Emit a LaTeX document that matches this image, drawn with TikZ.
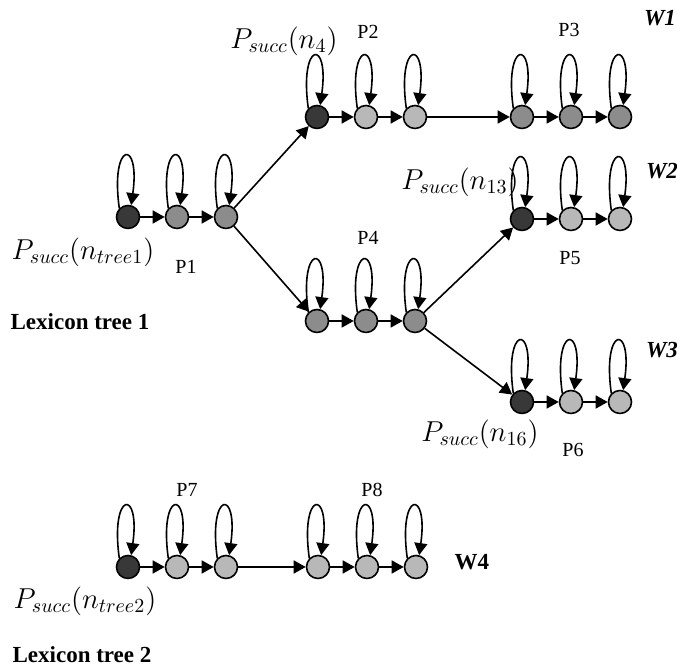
\documentclass[tikz,border=0pt]{standalone}
\usepackage{fontspec}
\setmainfont{Liberation Serif}
\usetikzlibrary{automata,positioning,arrows.meta}
\tikzset{
  hmm/.style={->,>={Triangle[length=6pt,width=6.5pt]},line width=0.8pt,node distance=24.5pt,on grid,
    every state/.style={draw=black,line width=0.8pt,minimum size=11.5pt,inner sep=0pt}},
  selfloop/.style={->,line width=0.8pt},
  headst/.style={state,fill=black!78},
  midst/.style={state,fill=black!45},
  lightst/.style={state,fill=black!28},
  plab/.style={font=\fontsize{10}{12}\selectfont},
  slab/.style={font=\fontsize{14}{16}\selectfont},
  wlab/.style={font=\fontsize{11.5}{13}\selectfont\bfseries},
}

\begin{document}
\begin{tikzpicture}[hmm,x=0.5pt,y=0.5pt]
  \useasboundingbox (0,0) rectangle (677,667);
  % lexicon tree 1
  \node[headst] (p1a) at (128,450) {};
  \node[midst] (p1b) [right=of p1a] {};
  \node[midst] (p1c) [right=of p1b] {};
  \node[headst] (p2a) at (317,550) {};
  \node[lightst] (p2b) [right=of p2a] {};
  \node[lightst] (p2c) [right=of p2b] {};
  \node[midst] (p3a) at (522,550) {};
  \node[midst] (p3b) [right=of p3a] {};
  \node[midst] (p3c) [right=of p3b] {};
  \node[midst] (p4a) at (317,346) {};
  \node[midst] (p4b) [right=of p4a] {};
  \node[midst] (p4c) [right=of p4b] {};
  \node[headst] (p5a) at (522,448) {};
  \node[lightst] (p5b) [right=of p5a] {};
  \node[lightst] (p5c) [right=of p5b] {};
  \node[headst] (p6a) at (522,265) {};
  \node[lightst] (p6b) [right=of p6a] {};
  \node[lightst] (p6c) [right=of p6b] {};
  % lexicon tree 2
  \node[headst] (p7a) at (128,100) {};
  \node[lightst] (p7b) [right=of p7a] {};
  \node[lightst] (p7c) [right=of p7b] {};
  \node[lightst] (p8a) at (318,100) {};
  \node[lightst] (p8b) [right=of p8a] {};
  \node[lightst] (p8c) [right=of p8b] {};

  \foreach \n in {p1a,p1b,p1c,p2a,p2b,p2c,p3a,p3b,p3c,p4a,p4b,p4c,
                  p5a,p5b,p5c,p6a,p6b,p6c,p7a,p7b,p7c,p8a,p8b,p8c}
    \draw[selfloop] (\n.135) .. controls +(98:34pt) and +(82:34pt) .. (\n.75);

  \path (p1a) edge (p1b) (p1b) edge (p1c)
        (p2a) edge (p2b) (p2b) edge (p2c)
        (p3a) edge (p3b) (p3b) edge (p3c)
        (p4a) edge (p4b) (p4b) edge (p4c)
        (p5a) edge (p5b) (p5b) edge (p5c)
        (p6a) edge (p6b) (p6b) edge (p6c)
        (p7a) edge (p7b) (p7b) edge (p7c)
        (p8a) edge (p8b) (p8b) edge (p8c)
        (p1c) edge (p2a) (p1c) edge (p4a)
        (p2c) edge (p3a)
        (p4c) edge (p5a) (p4c) edge (p6a)
        (p7c) edge (p8a);

  % labels
  \node[plab] (lp1) at (186,400) {P1};
  \node[plab] (lp2) at (368,635) {P2};
  \node[plab] (lp3) at (569,637) {P3};
  \node[plab] (lp4) at (368,429) {P4};
  \node[plab] (lp5) at (570,409) {P5};
  \node[plab] (lp6) at (573,217) {P6};
  \node[plab] (lp7) at (187,177) {P7};
  \node[plab] (lp8) at (372,177) {P8};
  \node[wlab] (w1) at (660,649) {\itshape W1};
  \node[wlab] (w2) at (662,496) {\itshape W2};
  \node[wlab] (w3) at (662,317) {\itshape W3};
  \node[wlab] (w4) at (472,105) {W4};
  \node[slab] (s4) at (284,626) {$P_{succ}(n_4)$};
  \node[slab] (s13) at (460,485) {$P_{succ}(n_{13})$};
  \node[slab] (s16) at (480,233) {$P_{succ}(n_{16})$};
  \node[slab] (st1) at (83,415) {$P_{succ}(n_{tree1})$};
  \node[slab] (st2) at (85,66) {$P_{succ}(n_{tree2})$};
  \node[wlab] (lex1) at (80,345) {Lexicon tree 1};
  \node[wlab] (lex2) at (82,12) {Lexicon tree 2};
\end{tikzpicture}
\end{document}
